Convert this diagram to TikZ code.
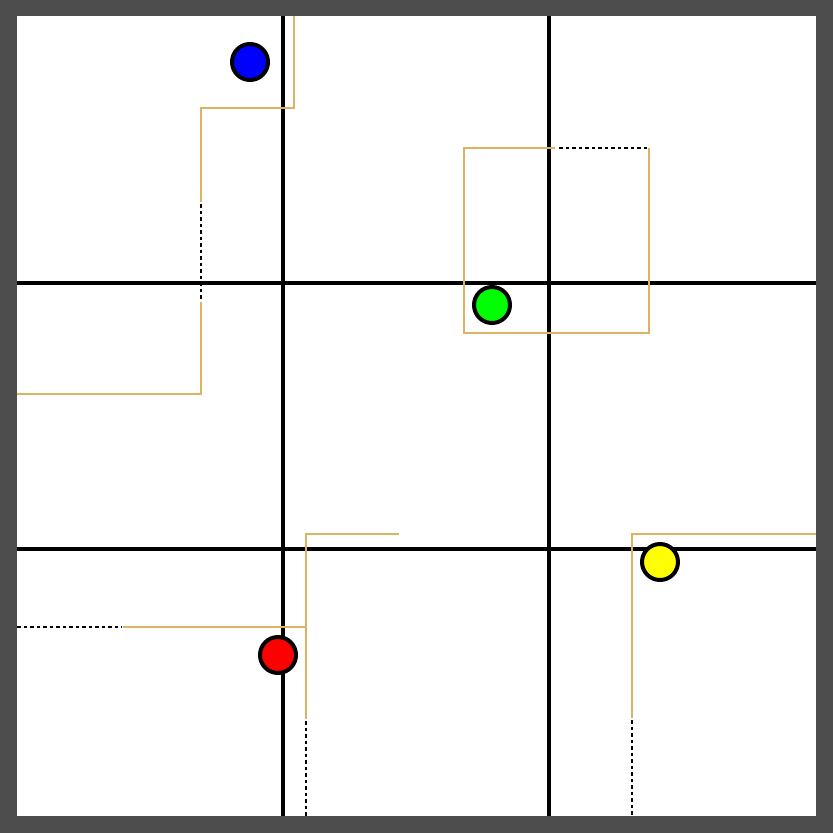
\documentclass[tikz,border=0pt]{standalone}
\usepackage{tikz}
\usepackage{xcolor}
\definecolor{FrameGray}{HTML}{4D4D4D}
\definecolor{PathTan}{HTML}{DDB263}
\definecolor{RobotYellow}{HTML}{FFFF00}
\tikzset{
  gridline/.style={line width=4.2pt, draw=black},
  route/.style={line width=2.6pt, draw=PathTan},
  gap/.style={line width=2.6pt, draw=black, dash pattern=on 3.5pt off 3pt},
  robot/.style={circle, draw=black, line width=4pt, minimum size=36pt, inner sep=0pt}
}

\begin{document}
\begin{tikzpicture}[x=1pt, y=-1pt]
    % frame
    \fill[FrameGray] (0,0) rectangle (833,833);
    \fill[white] (17,16) rectangle (816,816);

    % grid
    \foreach \g in {283,549} {
      \draw[gridline] (\g,16) -- (\g,816);
      \draw[gridline] (17,\g) -- (816,\g);
    }

    % blue route
    \draw[route] (294,16) -- (294,108) -- (201,108) -- (201,202);
    \draw[gap] (201,204) -- (201,300);
    \draw[route] (201,302) -- (201,394) -- (17,394);

    % green route
    \draw[route] (555,148) -- (464,148) -- (464,333) -- (649,333) -- (649,148);
    \draw[gap] (559,148) -- (649,148);

    % red route
    \draw[gap] (17,627) -- (122,627);
    \draw[route] (123,627) -- (306,627) -- (306,534) -- (399,534);
    \draw[route] (306,627) -- (306,719);
    \draw[gap] (306,721) -- (306,816);

    % yellow route
    \draw[route] (816,534) -- (632,534) -- (632,718);
    \draw[gap] (632,720) -- (632,816);

    % robots
    \node[robot, fill=blue] (blue) at (250,62) {};
    \node[robot, fill=green] (green) at (492,305) {};
    \node[robot, fill=red] (red) at (278,655) {};
    \node[robot, fill=RobotYellow] (yellow) at (660,562) {};
\end{tikzpicture}
\end{document}
